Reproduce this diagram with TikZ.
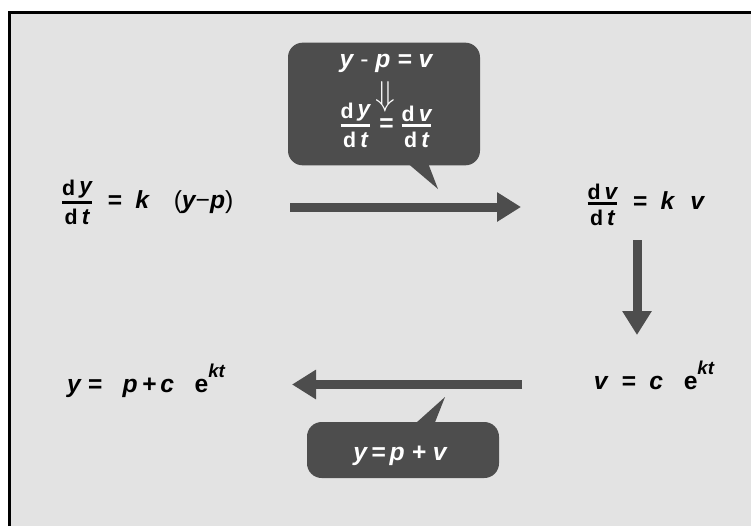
\documentclass[tikz,border=0pt]{standalone}
\usepackage{fontspec}
\setmainfont{Liberation Sans}
\usepackage{amsmath}
\usetikzlibrary{arrows.meta}
\definecolor{panel}{HTML}{E3E3E3}
\definecolor{ink}{HTML}{4D4D4D}
\newcommand{\fd}{{\fontsize{16}{18}\selectfont\textup{d}}}
\newcommand{\fv}[1]{{\fontsize{17}{19}\selectfont #1}}
\newcommand{\dd}[3][0pt]{$\genfrac{}{}{2pt}{1}{\mbox{\fd\,\raisebox{#1}{\fv{#2}}}}{\mbox{\rule{0pt}{14pt}\fd\,\fv{#3}}}$}
\newcommand{\ekt}{\textup{e}\raisebox{11pt}{\fontsize{14}{16}\selectfont kt}}
\newcommand{\thin}[1]{{\mdseries\upshape #1}}

\begin{document}
\begin{tikzpicture}[x=0.75pt,y=-0.75pt,
		eq/.style={font=\fontsize{18.5}{20}\selectfont\bfseries\itshape, inner sep=0pt},
		say/.style={eq, text=white},
		flow/.style={ink, line width=6.75pt, -{Triangle[length=18pt,width=21pt]}},
		bubble/.style={fill=ink, rounded corners=11pt, inner sep=0pt}]
	\useasboundingbox (0,0) rectangle (751,526);
	\fill[panel] (9,12) rectangle (751,526);
	\draw[line width=2.25pt] (9,526) -- (9,12) -- (751,12);
	% equations
	\node[eq, anchor=base] (dydt) at (147,208) {\dd[1.5pt]{y}{t}\ \ =\ \ k\quad\thin{(}y\thin{−}p\thin{)}};
	\node[eq, anchor=base] (dvdt) at (645,209) {\dd{v}{t}\ \ =\ \ k\hspace{12pt}v};
	\node[eq, anchor=base] (vce) at (654,389) {v\ \ =\ \ c\ \ \ \ekt};
	\node[eq, anchor=base] (yeq) at (146,392) {y\ =\ \ \ p\,+\,c\ \ \ \ekt};
	% hints
	\node[bubble, minimum width=144pt, minimum height=92pt] (hint1) at (384,104) {};
	\fill[ink] (392,150) -- (438,189) -- (423,150) -- cycle;
	\node[say, anchor=base] (sub) at (386,67) {y \thin{-} p = v};
	\node[say] (imp) at (385,97) {\scalebox{1.4}[1.5]{$\Downarrow$}};
	\node[say, anchor=base] (eqd) at (386,131) {\dd[1.5pt]{y}{t} = \dd{v}{t}};
	\node[bubble, minimum width=144pt, minimum height=42pt] (hint2) at (403,450) {};
	\fill[ink] (397,440) -- (445,397) -- (428,440) -- cycle;
	\node[say, anchor=base] (back) at (400,460) {y\,=\,p + v};
	% steps
	\draw[flow] ([shift={(143,-1)}]dydt.base) -- ([shift={(-124,-2)}]dvdt.base);
	\draw[flow] ([shift={(-8,31)}]dvdt.base) -- ([shift={(-17,-54)}]vce.base);
	\draw[flow] ([shift={(-132,-4.5)}]vce.base) -- ([shift={(146,-7.5)}]yeq.base);
\end{tikzpicture}
\end{document}
